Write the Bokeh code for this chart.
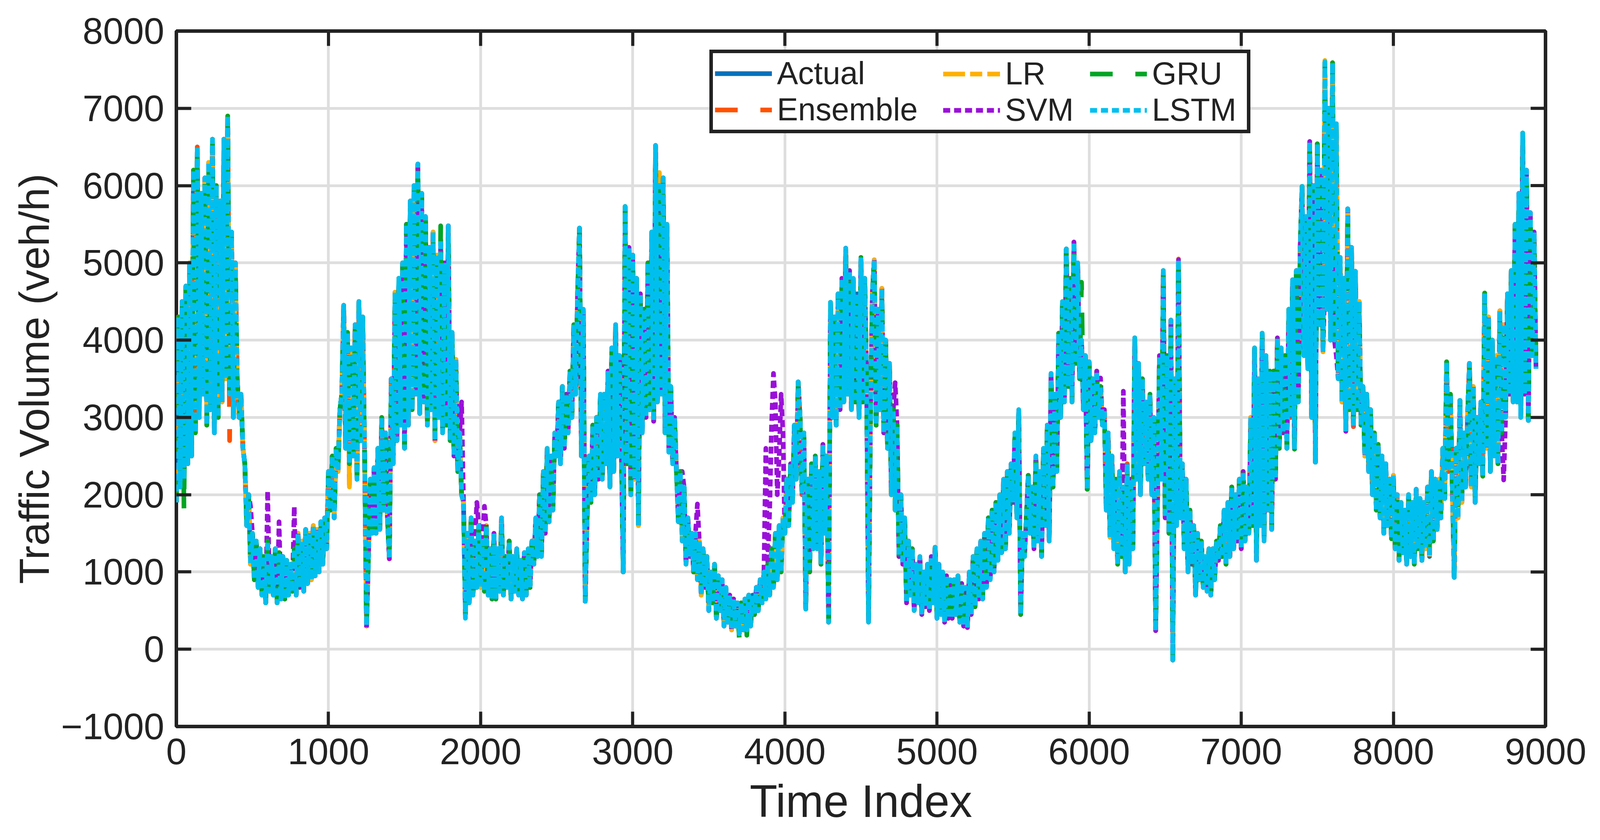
from math import pi
from bokeh.plotting import figure
from bokeh.models import Range1d, FixedTicker, Legend, LegendItem
from bokeh.embed import file_html
from bokeh.resources import INLINE

# ---------------- data ----------------
STEP = 12.5
actual = [
    1900, 4300, 2100, 4500, 2200, 4700, 2400, 5000,
    2500, 6200, 2800, 6500, 3000, 5900, 3300, 6100,
    2900, 6300, 3100, 6600, 2800, 6000, 3000, 5800,
    3200, 6600, 3500, 6900, 3300, 5400, 3000, 5000,
    3500, 3000, 3300, 2600, 2400, 1600, 2000, 1100,
    1500, 900, 1400, 800, 1300, 700, 1200, 600,
    1400, 750, 1200, 700, 1300, 600, 1250, 650,
    1200, 650, 1150, 700, 1100, 750, 1300, 700,
    1500, 800, 1400, 750, 1550, 850, 1500, 900,
    1600, 950, 1550, 1000, 1650, 1100, 1700, 1300,
    2300, 1800, 2500, 1700, 2600, 2300, 3100, 3300,
    4450, 2600, 4100, 2400, 3900, 2500, 4200, 2200,
    4500, 2700, 4300, 2500, 300, 1200, 2200, 1500,
    2350, 1500, 2600, 1550, 3000, 1800, 2800, 1700,
    1170, 3500, 2400, 4620, 2700, 4800, 2900, 5000,
    2600, 5500, 2900, 5800, 3100, 6000, 3300, 6280,
    3050, 5900, 3200, 5600, 2900, 5200, 3100, 5400,
    2700, 5100, 3000, 5300, 2800, 5000, 2900, 5480,
    2700, 4100, 2500, 3750, 2300, 2800, 2000, 1900,
    450, 1500, 600, 1700, 700, 1400, 800, 1600,
    800, 1400, 750, 1600, 700, 1300, 650, 1500,
    650, 1300, 750, 1700, 700, 1200, 800, 1400,
    650, 1200, 750, 1300, 700, 1150, 650, 1250,
    700, 1300, 800, 1400, 1100, 1700, 1200, 2000,
    1200, 2300, 1500, 2600, 1650, 2500, 1800, 2800,
    2500, 3200, 2400, 3400, 2600, 3300, 2800, 3600,
    3000, 4200, 3300, 4600, 5450, 2500, 4400, 620,
    1700, 2500, 1900, 2900, 2000, 3000, 2200, 3300,
    2200, 3300, 2400, 3600, 2100, 3900, 2300, 4200,
    2500, 3800, 2600, 1000, 5730, 2400, 5200, 2000,
    5100, 2200, 4800, 1600, 4600, 2800, 4400, 3000,
    5000, 3100, 5400, 2950, 6520, 3200, 6000, 3300,
    6100, 2800, 5500, 2550, 3400, 2400, 3000, 2300,
    1650, 2300, 1400, 2100, 1100, 1700, 1200, 1500,
    1000, 1500, 900, 1400, 700, 1300, 800, 1200,
    500, 1000, 600, 1100, 400, 950, 500, 900,
    300, 800, 350, 700, 250, 650, 300, 600,
    200, 600, 250, 650, 250, 700, 300, 700,
    450, 800, 500, 900, 600, 1000, 650, 1100,
    700, 1300, 800, 1500, 900, 1600, 1000, 1700,
    1500, 2200, 1600, 2400, 1900, 2900, 2200, 3460,
    3000, 2000, 2800, 520, 2200, 1000, 2400, 1300,
    2500, 1300, 2300, 1100, 2650, 1500, 2500, 350,
    4490, 3000, 4300, 2900, 4600, 3100, 4800, 3200,
    5190, 3300, 4900, 3100, 4800, 3200, 4600, 3000,
    5070, 3200, 4800, 3400, 350, 3000, 4600, 5040,
    2900, 4400, 3100, 4670, 2800, 4000, 2600, 3700,
    2000, 3100, 1800, 2900, 1200, 2000, 1100, 1700,
    600, 1400, 700, 1300, 500, 1100, 600, 1200,
    450, 1000, 550, 1100, 500, 1200, 600, 1320,
    400, 1100, 450, 1000, 350, 950, 400, 900,
    400, 900, 450, 950, 350, 850, 300, 800,
    280, 1000, 450, 1200, 550, 1300, 650, 1400,
    650, 1500, 800, 1700, 900, 1800, 1000, 1900,
    1150, 2000, 1250, 2200, 1300, 2300, 1500, 2400,
    1900, 2800, 1700, 3100, 450, 1500, 1200, 1700,
    2250, 1500, 2100, 1300, 2500, 1400, 2300, 1200,
    2600, 1600, 2900, 1400, 3570, 2100, 3300, 2300,
    4090, 3000, 4500, 3200, 5180, 3400, 4800, 3200,
    5270, 3700, 5000, 3500, 4000, 3100, 3800, 2070,
    3720, 2700, 3500, 2800, 3600, 3000, 3400, 2900,
    3100, 1800, 2800, 1450, 2500, 1300, 2200, 1100,
    2300, 1200, 2100, 1000, 2400, 1100, 2200, 1300,
    4030, 2200, 3700, 2000, 3500, 2400, 3200, 2200,
    3300, 2000, 3000, 240, 2000, 3800, 2200, 4900,
    1700, 3800, 1500, 4260, -140, 3500, 1600, 5040,
    1700, 2400, 1300, 2200, 1000, 1800, 1100, 1600,
    700, 1500, 900, 1400, 800, 1200, 750, 1300,
    700, 1300, 900, 1400, 1150, 1600, 1200, 1800,
    1100, 1900, 1200, 2100, 1300, 2000, 1400, 2200,
    1300, 2300, 1400, 2100, 1500, 3000, 1600, 3900,
    1150, 3500, 1600, 4090, 1400, 3800, 1800, 3600,
    1550, 3600, 2200, 4030, 2600, 3900, 2800, 3800,
    2600, 4400, 3000, 4780, 2590, 4900, 3200, 5200,
    5990, 3800, 5600, 3630, 6570, 3000, 6000, 2420,
    6540, 4200, 6200, 3850, 7600, 4400, 7000, 4000,
    7590, 4000, 6800, 3500, 5070, 3200, 4800, 2820,
    5700, 3100, 5200, 2880, 4890, 3100, 4500, 2900,
    3400, 2500, 3300, 2300, 3100, 2000, 2800, 1800,
    2650, 1700, 2500, 1500, 2400, 1600, 2200, 1430,
    2250, 1300, 2000, 1150, 1900, 1250, 1800, 1100,
    2000, 1200, 1900, 1100, 2070, 1300, 1950, 1150,
    1900, 1300, 2100, 1200, 2300, 1400, 2200, 1550,
    2200, 1700, 2600, 1950, 3720, 2300, 3300, 2100,
    930, 2600, 1700, 3220, 1900, 2800, 2100, 3000,
    3700, 2100, 3400, 1900, 3000, 2400, 3200, 2240,
    4610, 2600, 4300, 2300, 4000, 2500, 3800, 2400,
    4380, 2800, 4200, 3000, 4600, 3300, 4900, 3200,
    5500, 3200, 5900, 3000, 6680, 3300, 6200, 2960,
    5650, 3800, 5400, 3630,
]
time_index = [i * STEP for i in range(len(actual))]

# model predictions follow the actual curve except at these read-off points
ensemble_changes = {350: 2700, 1137.5: 2130, 4087.5: 3400, 6587.5: 5050}
lr_changes = {1137.5: 2100, 3175: 6170, 3775: 500, 7550: 7620}
svm_changes = {487.5: 1850, 600: 2050, 675: 1650, 775: 1850, 1250: 280,
               1875: 3200, 1975: 1900, 2025: 1850, 3325: 2300, 3425: 1880,
               3875: 2600, 3900: 1800, 3912.5: 2900, 3925: 3570, 3937.5: 3200,
               3950: 2000, 3962.5: 2500, 3975: 3300, 3987.5: 2800,
               4725: 3450, 6075: 3510, 6225: 3340, 7550: 4800, 7600: 5000,
               7625: 3800, 8725: 2190}
gru_changes = {50: 1800, 1737.5: 5480, 3650: 170, 3700: 150, 3750: 180,
               5950: 4750, 7450: 6500}
lstm_changes = {1900: 400}


def series(changes):
    return [changes.get(t, v) for t, v in zip(time_index, actual)]


ensemble = series(ensemble_changes)
lr = series(lr_changes)
svm = series(svm_changes)
gru = series(gru_changes)
lstm = series(lstm_changes)

X_MIN, X_MAX = 0, 9000
Y_MIN, Y_MAX = -1000, 8000
x_ticks = [0, 1000, 2000, 3000, 4000, 5000, 6000, 7000, 8000, 9000]
y_ticks = [-1000, 0, 1000, 2000, 3000, 4000, 5000, 6000, 7000, 8000]

# ---------------- figure ----------------
FONT = "Liberation Sans"
INK = "#222222"
LW = 12

p = figure(width=4108, height=2134, output_backend="svg", toolbar_location=None,
           x_range=Range1d(X_MIN, X_MAX), y_range=Range1d(Y_MIN, Y_MAX),
           min_border_left=451, min_border_right=152, min_border_top=79,
           min_border_bottom=275, background_fill_color="white",
           border_fill_color="white")
p.outline_line_color = INK
p.outline_line_width = 9

p.xaxis.ticker = FixedTicker(ticks=x_ticks)
p.yaxis.ticker = FixedTicker(ticks=y_ticks)
p.yaxis.major_label_overrides = {-1000: "\u22121000"}

for ax in (p.xaxis[0], p.yaxis[0]):
    ax.axis_line_color = None
    ax.major_tick_in = 38
    ax.major_tick_out = 0
    ax.major_tick_line_width = 8
    ax.major_tick_line_color = INK
    ax.minor_tick_line_color = None
    ax.major_label_text_font = FONT
    ax.major_label_text_font_size = "94px"
    ax.major_label_text_color = INK
    ax.axis_label_text_font = FONT
    ax.axis_label_text_font_style = "normal"
    ax.axis_label_text_color = INK

p.xaxis.axis_label = "Time Index"
p.yaxis.axis_label = "Traffic Volume (veh/h)"
p.xaxis.axis_label_text_font_size = "116px"
p.yaxis.axis_label_text_font_size = "108px"
p.xaxis.major_label_standoff = 31
p.xaxis.axis_label_standoff = 27
p.yaxis.major_label_standoff = 31
p.yaxis.axis_label_standoff = 5

p.xgrid.ticker = FixedTicker(ticks=x_ticks)
p.ygrid.ticker = FixedTicker(ticks=y_ticks)
p.grid.grid_line_color = "#dedede"
p.grid.grid_line_width = 7

common = dict(line_width=LW, line_join="round", line_cap="butt")
r_actual = p.line(time_index, actual, line_color="#0072BD", **common)
r_ens = p.line(time_index, ensemble, line_color="#FF5200", line_dash="58 58", **common)
r_lr = p.line(time_index, lr, line_color="#FFB000", line_dash="56 13 31 13", **common)
r_svm = p.line(time_index, svm, line_color="#9A10D8", line_dash="18 10", **common)
r_gru = p.line(time_index, gru, line_color="#00A524", line_dash="58 58", **common)
r_lstm = p.line(time_index, lstm, line_color="#00BFEF", line_dash="18 10", **common)

# mirrored inner ticks on the top and right edges of the box (clipped half-dashes)
p.scatter(x_ticks, [Y_MAX] * len(x_ticks), marker="dash", size=76, angle=pi / 2,
          line_color=INK, line_width=8)
p.scatter([X_MAX] * len(y_ticks), y_ticks, marker="dash", size=76, angle=0,
          line_color=INK, line_width=8)

# legend: 3 columns x 2 rows inside one boxed frame
leg_style = dict(label_text_font=FONT, label_text_font_size="81px",
                 label_text_color=INK, glyph_width=146, glyph_height=40,
                 label_standoff=13, spacing=0, margin=0, orientation="vertical")
col1 = Legend(items=[LegendItem(label="Actual", renderers=[r_actual]),
                     LegendItem(label="Ensemble", renderers=[r_ens])],
              location=(1365, 1518), label_width=1198, padding=5,
              border_line_color=INK, border_line_width=9, border_line_alpha=1.0,
              background_fill_color="white", background_fill_alpha=1.0,
              **leg_style)
col2 = Legend(items=[LegendItem(label="LR", renderers=[r_lr]),
                     LegendItem(label="SVM", renderers=[r_svm])],
              location=(1963, 1531), padding=10, border_line_color=None,
              background_fill_alpha=0.0, **leg_style)
col3 = Legend(items=[LegendItem(label="GRU", renderers=[r_gru]),
                     LegendItem(label="LSTM", renderers=[r_lstm])],
              location=(2339, 1531), padding=10, border_line_color=None,
              background_fill_alpha=0.0, **leg_style)
for lg in (col1, col2, col3):
    p.add_layout(lg)

open("out.html", "w").write(file_html(p, INLINE))
